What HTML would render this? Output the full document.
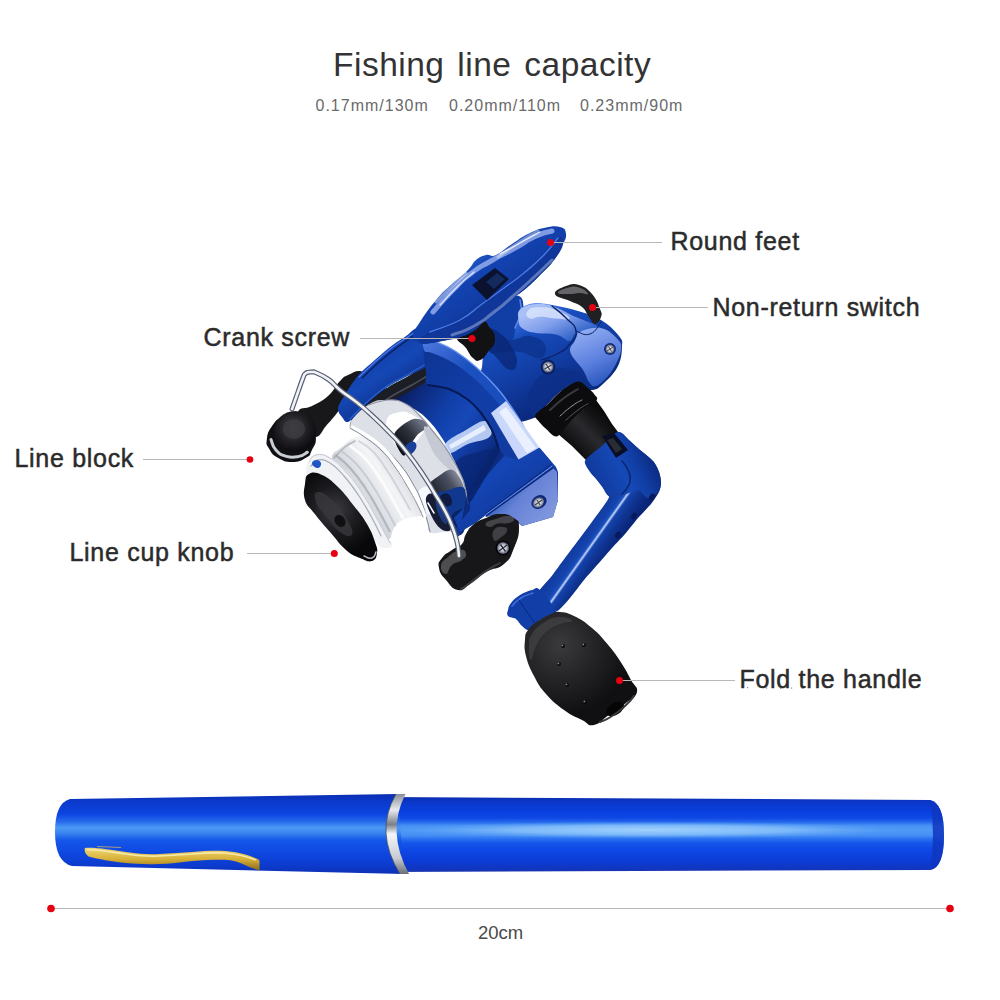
<!DOCTYPE html>
<html lang="en">
<head>
<meta charset="utf-8">
<title>Fishing line capacity</title>
<style>
html,body{margin:0;padding:0;background:#fff;}
body{width:1000px;height:1000px;position:relative;overflow:hidden;font-family:"Liberation Sans",sans-serif;}
svg{position:absolute;left:0;top:0;}
.t{position:absolute;white-space:nowrap;color:#2b2b2b;line-height:1;}
.title{left:333px;top:48px;font-size:33.5px;color:#333;letter-spacing:0.5px;word-spacing:3px;}
.sub{top:97.5px;font-size:16px;color:#6a6a6a;letter-spacing:1px;}
.lab{font-size:25px;letter-spacing:0.7px;-webkit-text-stroke:0.5px #2b2b2b;}
.dim{left:478px;top:924px;font-size:18.5px;color:#4a4a4a;}
</style>
</head>
<body>
<svg width="1000" height="1000" viewBox="0 0 1000 1000">
<defs>
<linearGradient id="penG" x1="0" y1="0" x2="0" y2="1">
<stop offset="0" stop-color="#0a2eb0"/>
<stop offset="0.08" stop-color="#0b38cc"/>
<stop offset="0.2" stop-color="#0a40e0"/>
<stop offset="0.28" stop-color="#0e48e4"/>
<stop offset="0.33" stop-color="#2466ec"/>
<stop offset="0.38" stop-color="#4690f4"/>
<stop offset="0.44" stop-color="#4f9af6"/>
<stop offset="0.51" stop-color="#4690f4"/>
<stop offset="0.56" stop-color="#2a70f0"/>
<stop offset="0.61" stop-color="#1658ea"/>
<stop offset="0.7" stop-color="#0e48e6"/>
<stop offset="0.85" stop-color="#0c3cd6"/>
<stop offset="0.95" stop-color="#1036c0"/>
<stop offset="1" stop-color="#1a34b0"/>
</linearGradient>
<linearGradient id="capG" x1="0" y1="0" x2="0" y2="1">
<stop offset="0" stop-color="#0a2eb0"/>
<stop offset="0.1" stop-color="#0b3acc"/>
<stop offset="0.25" stop-color="#0c44e0"/>
<stop offset="0.34" stop-color="#2468ec"/>
<stop offset="0.42" stop-color="#4a98f4"/>
<stop offset="0.48" stop-color="#3c88f0"/>
<stop offset="0.58" stop-color="#1456e8"/>
<stop offset="0.75" stop-color="#0e46e0"/>
<stop offset="0.9" stop-color="#0c3acc"/>
<stop offset="1" stop-color="#0e30b4"/>
</linearGradient>
<linearGradient id="ringG" x1="0" y1="0" x2="0" y2="1">
<stop offset="0" stop-color="#8a8f98"/>
<stop offset="0.2" stop-color="#e8eaee"/>
<stop offset="0.38" stop-color="#7a7f88"/>
<stop offset="0.5" stop-color="#f4f6f8"/>
<stop offset="0.8" stop-color="#c8ccd2"/>
<stop offset="1" stop-color="#6a6f78"/>
</linearGradient>
<linearGradient id="goldG" x1="0" y1="0" x2="0" y2="1">
<stop offset="0" stop-color="#f0d878"/>
<stop offset="0.5" stop-color="#d8b038"/>
<stop offset="1" stop-color="#8a6a18"/>
</linearGradient>
<radialGradient id="penHL" cx="0.5" cy="0.5" r="0.5">
<stop offset="0" stop-color="#a6d4fd" stop-opacity="0.95"/><stop offset="0.55" stop-color="#8ec6fb" stop-opacity="0.75"/><stop offset="1" stop-color="#6aaaf6" stop-opacity="0"/>
</radialGradient>
</defs>
<!-- pen -->
<g id="pen">
<path d="M384,797 L930,800 Q944,803 944,835 Q944,868 930,870 L384,872 Z" fill="url(#penG)"/>
<ellipse cx="650" cy="830" rx="250" ry="8.5" fill="url(#penHL)"/>
<path d="M930,800 Q944,803 944,835 Q944,868 930,870 Q936,835 930,800Z" fill="#0f36c0" opacity="0.85"/>
<path d="M70,799 L398,794 L404,874 L72,866 Q55,862 55,832 Q55,803 70,799Z" fill="url(#capG)"/>
<path d="M396,794 Q374,832 400,874 L409,874 Q386,832 405.5,794Z" fill="url(#ringG)"/>
<path d="M396,794 Q374,832 400,874" fill="none" stroke="#4a5060" stroke-width="0.8"/>
<path d="M85,848 C95,847 110,850 126,852 C140,854 150,854.5 159,854 C172,853.5 182,852.5 192,852 C204,851 214,850.5 225,851 C238,852 248,855 254,857.5 C258,859 260,860 259.5,862 L259.5,870.5 C255,869 250,867.5 247,866 C240,862 232,860 225,859.7 C214,859.5 204,860 192,861 C180,862.5 170,864 159,864 C146,864.5 136,864 126,863 C112,861.5 98,859 88.6,856.4 C85,854 84,850 85,848Z" fill="url(#goldG)"/>
<path d="M87,849.5 C100,850 112,852 126,854 C140,856 150,856.5 159,856 C172,855.5 182,854.5 192,854 C204,853 214,852.5 225,853 C238,854 248,857 256,860" stroke="#f7e9a8" stroke-width="1.6" fill="none"/>
<path d="M97,846.5 L121,847.5" stroke="#c9b060" stroke-width="1.2" fill="none" opacity="0.8"/>
</g>
<defs>
<linearGradient id="gFootTop" gradientUnits="userSpaceOnUse" x1="470" y1="262" x2="500" y2="305">
<stop offset="0" stop-color="#1d55c2"/><stop offset="0.25" stop-color="#1343b2"/><stop offset="0.7" stop-color="#113da5"/><stop offset="1" stop-color="#0b2d81"/></linearGradient>
<linearGradient id="gBand" gradientUnits="userSpaceOnUse" x1="400" y1="340" x2="540" y2="470">
<stop offset="0" stop-color="#0d318d"/><stop offset="0.5" stop-color="#113ea7"/><stop offset="1" stop-color="#11399c"/></linearGradient>
<linearGradient id="gRotor" gradientUnits="userSpaceOnUse" x1="395" y1="395" x2="500" y2="470">
<stop offset="0" stop-color="#0a1a58"/><stop offset="0.18" stop-color="#0d2d84"/><stop offset="0.38" stop-color="#113fa9"/><stop offset="0.55" stop-color="#1648b7"/><stop offset="0.7" stop-color="#113ba1"/><stop offset="1" stop-color="#082069"/></linearGradient>
<linearGradient id="gChrome" gradientUnits="userSpaceOnUse" x1="360" y1="430" x2="450" y2="470">
<stop offset="0" stop-color="#f4f6fa"/><stop offset="0.18" stop-color="#c9cdd6"/><stop offset="0.32" stop-color="#5c626e"/><stop offset="0.42" stop-color="#e8ebf0"/><stop offset="0.6" stop-color="#ffffff"/><stop offset="0.78" stop-color="#aab0bc"/><stop offset="0.9" stop-color="#4a5060"/><stop offset="1" stop-color="#dfe3ea"/></linearGradient>
<linearGradient id="gLine" gradientUnits="userSpaceOnUse" x1="340" y1="500" x2="410" y2="455">
<stop offset="0" stop-color="#a9aeb8"/><stop offset="0.3" stop-color="#d9dce1"/><stop offset="0.6" stop-color="#f4f5f7"/><stop offset="1" stop-color="#c2c6ce"/></linearGradient>
<linearGradient id="gBody" gradientUnits="userSpaceOnUse" x1="540" y1="305" x2="585" y2="395">
<stop offset="0" stop-color="#3a6fe6"/><stop offset="0.2" stop-color="#174dbd"/><stop offset="0.55" stop-color="#113da3"/><stop offset="1" stop-color="#0a2779"/></linearGradient>
<linearGradient id="gArm" gradientUnits="userSpaceOnUse" x1="576" y1="540" x2="605.3" y2="560.8">
<stop offset="0" stop-color="#11399c"/><stop offset="0.3" stop-color="#1444ae"/><stop offset="0.38" stop-color="#1b52c0"/><stop offset="0.43" stop-color="#c5d5fb"/><stop offset="0.49" stop-color="#1444ae"/><stop offset="0.7" stop-color="#0f3491"/><stop offset="1" stop-color="#092578"/></linearGradient>
<linearGradient id="gArmTop" gradientUnits="userSpaceOnUse" x1="596" y1="478" x2="650" y2="452">
<stop offset="0" stop-color="#113ba0"/><stop offset="0.45" stop-color="#1549b6"/><stop offset="0.7" stop-color="#113ea5"/><stop offset="1" stop-color="#0b2b81"/></linearGradient>
<linearGradient id="gBox" gradientUnits="userSpaceOnUse" x1="500" y1="470" x2="540" y2="525">
<stop offset="0" stop-color="#1445b4"/><stop offset="0.5" stop-color="#113ba1"/><stop offset="1" stop-color="#0b2d81"/></linearGradient>
<radialGradient id="gKnob" gradientUnits="userSpaceOnUse" cx="560" cy="645" r="70">
<stop offset="0" stop-color="#3a3a3c"/><stop offset="0.5" stop-color="#242426"/><stop offset="1" stop-color="#101012"/></radialGradient>
<radialGradient id="gRoller" gradientUnits="userSpaceOnUse" cx="293" cy="428" r="24">
<stop offset="0" stop-color="#48484c"/><stop offset="0.6" stop-color="#202024"/><stop offset="1" stop-color="#0c0c10"/></radialGradient>
<linearGradient id="gShaft" gradientUnits="userSpaceOnUse" x1="560" y1="440" x2="600" y2="400">
<stop offset="0" stop-color="#0a0a0c"/><stop offset="0.45" stop-color="#2a2a2e"/><stop offset="0.7" stop-color="#141416"/><stop offset="1" stop-color="#050506"/></linearGradient>
<radialGradient id="gCap" gradientUnits="userSpaceOnUse" cx="335" cy="510" r="45">
<stop offset="0" stop-color="#3c3c40"/><stop offset="0.5" stop-color="#1c1c20"/><stop offset="1" stop-color="#08080a"/></radialGradient>
<radialGradient id="gScrew">
<stop offset="0" stop-color="#ffffff"/><stop offset="0.6" stop-color="#b8bcc8"/><stop offset="1" stop-color="#4a5064"/></radialGradient>
<linearGradient id="gPatchA" gradientUnits="userSpaceOnUse" x1="398" y1="445" x2="422" y2="424">
<stop offset="0" stop-color="#0e1016"/><stop offset="0.55" stop-color="#2e333e"/><stop offset="1" stop-color="#6a7080"/></linearGradient>
<linearGradient id="gPatchB" gradientUnits="userSpaceOnUse" x1="432" y1="494" x2="462" y2="474">
<stop offset="0" stop-color="#1a1e28"/><stop offset="0.6" stop-color="#4a5060"/><stop offset="1" stop-color="#9aa0b0"/></linearGradient>
<linearGradient id="gPeri" gradientUnits="userSpaceOnUse" x1="500" y1="490" x2="540" y2="525">
<stop offset="0" stop-color="#2858b9"/><stop offset="0.4" stop-color="#6682d6"/><stop offset="1" stop-color="#7f96de"/></linearGradient>
<linearGradient id="gDome" gradientUnits="userSpaceOnUse" x1="545" y1="305" x2="565" y2="345">
<stop offset="0" stop-color="#a9c0f6"/><stop offset="0.45" stop-color="#7f9deb"/><stop offset="1" stop-color="#295dc2"/></linearGradient>
<linearGradient id="gPlate" gradientUnits="userSpaceOnUse" x1="585" y1="330" x2="610" y2="385">
<stop offset="0" stop-color="#8eaaf0"/><stop offset="0.5" stop-color="#5f82e0"/><stop offset="1" stop-color="#2150b9"/></linearGradient>
<linearGradient id="gBar" gradientUnits="userSpaceOnUse" x1="380" y1="355" x2="398" y2="382">
<stop offset="0" stop-color="#1240ab"/><stop offset="0.5" stop-color="#1548b6"/><stop offset="1" stop-color="#113ba0"/></linearGradient>
<linearGradient id="gRim" gradientUnits="userSpaceOnUse" x1="428" y1="342" x2="520" y2="430">
<stop offset="0" stop-color="#4a74dc"/><stop offset="0.35" stop-color="#1b51bf"/><stop offset="1" stop-color="#174ab9"/></linearGradient>
</defs>
<path d="M298.0,412.0 C299.9,406.4 305.0,409.7 312.0,406.0 C319.0,402.3 321.5,401.8 328.0,396.0 C334.5,390.2 335.3,385.9 340.0,381.0 C344.7,376.1 343.3,377.3 348.0,375.0 C352.7,372.7 356.3,370.3 360.0,371.0 C363.7,371.7 364.5,374.0 364.0,378.0 C363.5,382.0 361.7,383.3 358.0,388.0 C354.3,392.7 352.9,392.2 348.0,398.0 C343.1,403.8 342.1,406.5 337.0,413.0 C331.9,419.5 330.9,420.4 326.0,426.0 C321.1,431.6 321.1,436.1 316.0,437.0 C310.9,437.9 308.2,435.8 304.0,430.0 C299.8,424.2 296.1,417.6 298.0,412.0Z" fill="#18181a" />
<path d="M346.0,408.0 C347.9,402.9 352.1,402.2 360.0,398.0 C367.9,393.8 370.0,393.0 380.0,390.0 C390.0,387.0 392.7,387.3 403.0,385.0 C413.3,382.7 417.2,380.7 424.0,380.0 C430.8,379.3 426.2,379.9 432.0,382.0 C437.8,384.1 440.8,385.0 449.0,389.0 C457.2,393.0 459.5,393.4 467.0,399.0 C474.5,404.6 475.2,405.8 481.0,413.0 C486.8,420.2 488.0,422.1 492.0,430.0 C496.0,437.9 495.7,439.5 498.0,447.0 C500.3,454.5 502.5,453.8 502.0,462.0 C501.5,470.2 499.7,473.1 496.0,482.0 C492.3,490.9 492.1,492.5 486.0,500.0 C479.9,507.5 475.6,506.1 470.0,514.0 C464.4,521.9 466.2,530.7 462.0,534.0 C457.8,537.3 451.1,535.9 452.0,528.0 C452.9,520.1 463.7,511.4 466.0,500.0 C468.3,488.6 465.0,488.8 462.0,479.0 C459.0,469.2 457.7,467.6 453.0,458.0 C448.3,448.4 447.8,446.9 442.0,438.0 C436.2,429.1 434.5,426.8 428.0,420.0 C421.5,413.2 420.5,413.0 414.0,409.0 C407.5,405.0 406.8,404.9 400.0,403.0 C393.2,401.1 392.5,400.5 385.0,401.0 C377.5,401.5 375.7,400.6 368.0,405.0 C360.3,409.4 357.1,419.3 352.0,420.0 C346.9,420.7 344.1,413.1 346.0,408.0Z" fill="url(#gRotor)" />
<path d="M446.0,443.0 C449.2,438.4 458.4,434.4 466.0,430.0 C473.6,425.6 479.0,421.2 484.0,421.0 C489.0,420.8 490.2,425.6 491.0,429.0 C491.8,432.4 492.6,435.0 488.0,438.0 C483.4,441.0 475.6,441.0 468.0,444.0 C460.4,447.0 454.4,453.2 450.0,453.0 C445.6,452.8 442.8,447.6 446.0,443.0Z" fill="#c7d8fb" opacity="0.9"/>
<path d="M449.0,445.0 L484.0,425.0 L486.0,430.0 L451.0,449.0Z" fill="#f4f8ff" opacity="0.8"/>
<path d="M456.0,462.0 C459.7,455.7 468.0,454.8 478.0,452.0 C488.0,449.2 493.9,446.7 499.0,450.0 C504.1,453.3 501.6,457.6 500.0,466.0 C498.4,474.4 498.1,475.7 492.0,486.0 C485.9,496.3 480.5,502.1 474.0,510.0 C467.5,517.9 465.9,522.8 464.0,520.0 C462.1,517.2 466.5,507.6 466.0,498.0 C465.5,488.4 464.3,487.4 462.0,479.0 C459.7,470.6 452.3,468.3 456.0,462.0Z" fill="#092574" opacity="0.7"/>
<path d="M350.0,424.0 C351.2,419.0 358.6,412.2 366.0,405.0 C373.4,397.8 378.8,393.6 387.0,388.0 C395.2,382.4 398.8,381.4 406.8,377.0 C414.8,372.6 422.4,365.8 427.0,366.0 C431.6,366.2 433.0,373.2 430.0,378.0 C427.0,382.8 419.6,385.4 412.0,390.0 C404.4,394.6 399.6,396.0 392.0,401.0 C384.4,406.0 380.4,409.2 374.0,415.0 C367.6,420.8 364.8,428.2 360.0,430.0 C355.2,431.8 348.8,429.0 350.0,424.0Z" fill="#1c1e26" />
<path d="M358.0,424.0 C361.2,421.0 367.2,414.6 374.0,409.0 C380.8,403.4 384.4,400.8 392.0,396.0 C399.6,391.2 405.0,389.0 412.0,385.0 C419.0,381.0 424.0,377.8 427.0,376.0" fill="none" stroke="#4a4e5a" stroke-width="1.5" stroke-linecap="round" stroke-linejoin="round" />
<path d="M350.0,426.0 C350.0,433.2 359.6,430.4 368.0,436.0 C376.4,441.6 378.1,442.8 386.0,450.0 C393.9,457.2 395.7,459.1 402.0,467.0 C408.3,474.9 408.6,476.3 413.0,484.0 C417.4,491.7 417.7,491.6 421.0,500.0 C424.3,508.4 424.9,512.5 427.0,520.0 C429.1,527.5 426.0,529.2 430.0,532.0 C434.0,534.8 436.5,532.5 444.0,532.0 C451.5,531.5 456.2,532.8 462.0,530.0 C467.8,527.2 468.1,528.9 469.0,520.0 C469.9,511.1 468.3,503.4 466.0,492.0 C463.7,480.6 463.9,481.5 459.0,471.0 C454.1,460.5 451.5,456.8 445.0,447.0 C438.5,437.2 436.8,436.2 431.0,429.0 C425.2,421.8 425.8,421.8 420.0,416.0 C414.2,410.2 413.2,407.7 406.0,404.0 C398.8,400.3 397.9,399.8 389.0,400.0 C380.1,400.2 377.1,398.9 368.0,405.0 C358.9,411.1 350.0,418.8 350.0,426.0Z" fill="#dde0e7" />
<path d="M386.2,422.0 C386.9,414.2 392.6,413.8 398.8,412.2 C405.0,410.6 406.9,411.7 412.8,415.0 C418.7,418.3 422.7,420.6 424.0,426.2 C425.3,431.8 422.6,432.6 418.4,438.8 C414.2,445.0 411.0,451.2 405.8,452.8 C400.6,454.4 400.6,453.0 396.0,445.8 C391.4,438.6 385.5,429.8 386.2,422.0Z" fill="#ffffff" />
<path d="M393.9,436.0 C394.1,432.5 396.4,430.4 399.5,427.6 C402.6,424.8 408.7,420.3 412.8,419.2 C416.9,418.1 421.6,419.6 424.0,420.9 C426.4,422.2 428.6,424.6 427.5,426.9 C426.4,429.2 420.5,431.6 417.7,434.6 C414.9,437.6 412.9,441.6 410.7,445.1 C408.5,448.6 406.5,455.0 404.4,455.6 C402.3,456.2 399.9,451.9 398.1,448.6 C396.4,445.3 393.7,439.5 393.9,436.0Z" fill="url(#gPatchA)" />
<path d="M405.8,445.8 C407.5,443.1 410.4,441.3 412.8,441.6 C415.2,441.9 417.0,444.1 416.3,447.2 C415.6,450.3 412.5,453.5 410.0,454.9 C407.5,456.3 406.5,455.2 405.5,453.1 C404.5,451.0 404.1,448.5 405.8,445.8Z" fill="#193f98" />
<path d="M424.0,427.6 C424.7,424.7 427.2,426.6 432.4,431.8 C437.6,437.0 440.8,441.2 446.4,450.0 C452.0,458.8 454.9,464.7 456.2,469.6 C457.5,474.5 456.2,473.6 452.0,471.0 C447.8,468.4 443.2,464.6 438.0,458.4 C432.8,452.2 432.9,451.6 429.6,444.4 C426.3,437.2 423.3,430.5 424.0,427.6Z" fill="#c4c9d3" />
<path d="M429.6,484.3 C430.5,481.3 434.5,479.1 438.0,476.6 C441.5,474.2 447.1,469.6 450.6,469.6 C454.1,469.6 456.8,473.1 459.0,476.6 C461.2,480.1 465.1,488.0 463.9,490.6 C462.7,493.2 455.9,490.6 452.0,492.0 C448.1,493.4 444.1,498.5 440.8,499.0 C437.5,499.5 434.3,497.2 432.4,494.8 C430.5,492.4 428.7,487.3 429.6,484.3Z" fill="url(#gPatchB)" />
<path d="M418.4,492.0 C419.7,487.4 426.3,485.4 429.6,486.4 C432.9,487.4 430.4,491.6 432.4,496.2 C434.4,500.8 438.7,501.8 438.0,506.0 C437.3,510.2 432.9,514.4 429.6,514.4 C426.3,514.4 426.6,511.2 424.0,506.0 C421.4,500.8 417.1,496.6 418.4,492.0Z" fill="#f8f9fc" />
<path d="M427.5,500.4 C427.5,498.3 429.4,498.1 431.0,499.3 C432.6,500.4 434.5,503.2 434.5,505.3 C434.5,507.4 432.6,509.2 431.0,508.1 C429.4,507.0 427.5,502.5 427.5,500.4Z" fill="#b07ab8" opacity="0.45"/>
<path d="M426.0,498.0 C426.8,494.0 430.8,492.0 435.0,495.0 C439.2,498.0 443.8,506.2 447.0,513.0 C450.2,519.8 452.2,525.8 451.0,529.0 C449.8,532.2 445.0,531.8 441.0,529.0 C437.0,526.2 434.0,521.2 431.0,515.0 C428.0,508.8 425.2,502.0 426.0,498.0Z" fill="#161c34" />
<path d="M436.0,500.0 C437.0,499.6 439.8,503.6 442.0,508.0 C444.2,512.4 446.8,519.2 447.0,522.0 C447.2,524.8 445.0,524.4 443.0,522.0 C441.0,519.6 438.4,514.4 437.0,510.0 C435.6,505.6 435.0,500.4 436.0,500.0Z" fill="#1b4298" opacity="0.8"/>
<path d="M428.0,503.0 L434.0,513.0" fill="none" stroke="#ffffff" stroke-width="1.5" stroke-linecap="round" stroke-linejoin="round" />
<path d="M438.0,494.0 C438.3,490.2 441.2,492.4 446.0,491.0 C450.8,489.6 457.8,485.6 462.0,487.0 C466.2,488.4 465.6,491.4 467.0,498.0 C468.4,504.6 469.8,513.4 469.0,520.0 C468.2,526.6 465.8,527.6 463.0,531.0 C460.2,534.4 457.6,538.4 455.0,537.0 C452.4,535.6 452.1,529.4 450.0,524.0 C447.9,518.6 446.9,516.0 444.5,510.0 C442.1,504.0 437.7,497.8 438.0,494.0Z" fill="#11388f" />
<path d="M440.0,497.0 C440.4,494.6 445.6,492.8 448.0,494.0 C450.4,495.2 452.4,500.6 452.0,503.0 C451.6,505.4 448.4,507.2 446.0,506.0 C443.6,504.8 439.6,499.4 440.0,497.0Z" fill="#0e1a40" />
<path d="M452.0,515.0 C453.6,511.2 462.8,507.8 466.0,509.0 C469.2,510.2 469.6,517.2 468.0,521.0 C466.4,524.8 461.2,529.2 458.0,528.0 C454.8,526.8 450.4,518.8 452.0,515.0Z" fill="#092464" />
<path d="M368.0,405.0 C372.9,403.8 380.1,400.2 389.0,400.0 C397.9,399.8 398.8,400.3 406.0,404.0 C413.2,407.7 414.2,410.2 420.0,416.0 C425.8,421.8 425.2,421.8 431.0,429.0 C436.8,436.2 438.5,437.2 445.0,447.0 C451.5,456.8 454.1,460.5 459.0,471.0 C463.9,481.5 463.7,480.6 466.0,492.0 C468.3,503.4 469.9,511.1 469.0,520.0 C468.1,528.9 463.6,527.7 462.0,530.0" fill="none" stroke="#8b92a2" stroke-width="1.2" stroke-linecap="round" stroke-linejoin="round" />
<path d="M350.0,426.0 C354.2,428.3 359.6,430.4 368.0,436.0 C376.4,441.6 378.1,442.8 386.0,450.0 C393.9,457.2 395.7,459.1 402.0,467.0 C408.3,474.9 408.6,476.3 413.0,484.0 C417.4,491.7 417.7,491.6 421.0,500.0 C424.3,508.4 424.9,512.5 427.0,520.0 C429.1,527.5 429.3,529.2 430.0,532.0" fill="none" stroke="#7a8090" stroke-width="1.0" stroke-linecap="round" stroke-linejoin="round" />
<path d="M332.0,458.0 C331.3,452.2 337.9,450.7 343.0,446.0 C348.1,441.3 348.6,440.1 354.0,438.0 C359.4,435.9 359.9,434.9 366.0,437.0 C372.1,439.1 373.9,440.9 380.0,447.0 C386.1,453.1 386.2,454.4 392.0,463.0 C397.8,471.6 399.4,474.7 405.0,484.0 C410.6,493.3 412.0,496.0 416.0,503.0 C420.0,510.0 422.5,510.7 422.0,514.0 C421.5,517.3 418.7,515.6 414.0,517.0 C409.3,518.4 406.7,517.4 402.0,520.0 C397.3,522.6 397.0,523.6 394.0,528.0 C391.0,532.4 391.8,539.0 389.0,539.0 C386.2,539.0 385.0,533.4 382.0,528.0 C379.0,522.6 380.7,524.4 376.0,516.0 C371.3,507.6 369.0,502.5 362.0,492.0 C355.0,481.5 353.0,478.9 346.0,471.0 C339.0,463.1 332.7,463.8 332.0,458.0Z" fill="url(#gLine)" />
<path d="M336.1,455.5 C339.8,458.9 342.2,459.3 350.1,468.1 C358.0,476.9 357.8,476.8 365.6,488.5 C373.4,500.3 373.1,500.8 379.5,512.2 C385.9,523.5 386.9,526.1 389.6,531.2" fill="none" stroke="#8f95a3" stroke-width="2.2" stroke-linecap="round" stroke-linejoin="round" opacity="0.55"/>
<path d="M342.2,451.7 C345.9,454.9 348.5,455.4 356.2,463.8 C363.9,472.2 363.4,471.9 371.0,483.3 C378.6,494.7 378.3,495.2 384.7,506.4 C391.1,517.6 392.3,520.3 395.0,525.4" fill="none" stroke="#aeb3bf" stroke-width="2.0" stroke-linecap="round" stroke-linejoin="round" opacity="0.5"/>
<path d="M350.7,446.4 C354.4,449.5 357.3,449.9 364.7,457.8 C372.1,465.7 371.2,465.2 378.5,476.1 C385.8,486.9 385.6,487.4 391.9,498.4 C398.3,509.4 399.7,512.3 402.5,517.4" fill="none" stroke="#ffffff" stroke-width="3.0" stroke-linecap="round" stroke-linejoin="round" opacity="0.8"/>
<path d="M359.2,441.2 C362.9,444.0 366.1,444.4 373.2,451.8 C380.3,459.2 379.1,458.5 386.0,468.8 C392.9,479.1 392.8,479.6 399.2,490.4 C405.6,501.2 407.1,504.3 410.0,509.4" fill="none" stroke="#b4b9c5" stroke-width="2.0" stroke-linecap="round" stroke-linejoin="round" opacity="0.5"/>
<path d="M334.0,458.0 C336.6,455.4 340.1,451.0 345.0,447.0 C349.9,443.0 352.7,442.4 355.0,441.0" fill="none" stroke="#9ea3ad" stroke-width="1.6" stroke-linecap="round" stroke-linejoin="round" opacity="0.7"/>
<path d="M352.0,427.0 C355.7,429.1 360.5,430.9 368.0,436.0 C375.5,441.1 377.2,442.2 384.0,449.0 C390.8,455.8 391.2,456.8 397.0,465.0 C402.8,473.2 403.9,475.4 409.0,484.0 C414.1,492.6 415.3,494.5 419.0,502.0 C422.7,509.5 423.6,512.7 425.0,516.0" fill="none" stroke="#ffffff" stroke-width="3.2" stroke-linecap="round" stroke-linejoin="round" />
<path d="M350.0,428.0 C353.7,430.3 358.5,432.6 366.0,438.0 C373.5,443.4 375.2,444.2 382.0,451.0 C388.8,457.8 389.2,458.8 395.0,467.0 C400.8,475.2 401.9,477.4 407.0,486.0 C412.1,494.6 413.3,496.8 417.0,504.0 C420.7,511.2 421.6,514.0 423.0,517.0" fill="none" stroke="#808796" stroke-width="1.0" stroke-linecap="round" stroke-linejoin="round" />
<path d="M306.0,470.0 C306.0,466.7 306.7,464.7 309.0,461.0 C311.3,457.3 311.1,454.9 316.0,454.0 C320.9,453.1 323.0,453.0 330.0,457.0 C337.0,461.0 338.5,462.8 346.0,471.0 C353.5,479.2 355.0,481.5 362.0,492.0 C369.0,502.5 370.4,506.0 376.0,516.0 C381.6,526.0 382.3,528.2 386.0,535.0 C389.7,541.8 392.5,542.0 392.0,545.0 C391.5,548.0 387.7,548.7 384.0,548.0 C380.3,547.3 380.0,547.6 376.0,542.0 C372.0,536.4 372.1,532.4 367.0,524.0 C361.9,515.6 360.8,514.6 354.0,506.0 C347.2,497.4 345.5,494.0 338.0,487.0 C330.5,480.0 328.8,478.8 322.0,476.0 C315.2,473.2 312.7,476.4 309.0,475.0 C305.3,473.6 306.0,473.3 306.0,470.0Z" fill="#f1f2f5" />
<path d="M311.0,466.0 C312.6,464.6 313.6,460.7 318.0,460.0 C322.4,459.3 323.9,459.3 330.0,463.0 C336.1,466.7 337.2,468.3 344.0,476.0 C350.8,483.7 352.5,486.2 359.0,496.0 C365.5,505.8 366.9,508.7 372.0,518.0 C377.1,527.3 378.9,531.8 381.0,536.0" fill="none" stroke="#a9aeb9" stroke-width="1.3" stroke-linecap="round" stroke-linejoin="round" />
<path d="M309.0,462.0 C310.6,460.4 311.1,455.9 316.0,455.0 C320.9,454.1 323.0,454.0 330.0,458.0 C337.0,462.0 338.5,463.8 346.0,472.0 C353.5,480.2 355.0,482.5 362.0,493.0 C369.0,503.5 369.5,505.3 376.0,517.0 C382.5,528.7 386.7,536.9 390.0,543.0" fill="none" stroke="#c2c6ce" stroke-width="1.0" stroke-linecap="round" stroke-linejoin="round" />
<path d="M312.0,464.0 C311.5,462.1 313.9,460.2 316.0,460.0 C318.1,459.8 320.5,461.1 321.0,463.0 C321.5,464.9 320.1,467.8 318.0,468.0 C315.9,468.2 312.5,465.9 312.0,464.0Z" fill="#1f55c4" />
<path d="M309.0,474.0 C313.0,471.9 315.2,472.0 322.0,475.0 C328.8,478.0 330.5,479.8 338.0,487.0 C345.5,494.2 347.2,497.4 354.0,506.0 C360.8,514.6 362.1,515.6 367.0,524.0 C371.9,532.4 372.7,535.2 375.0,542.0 C377.3,548.8 377.7,548.6 377.0,553.0 C376.3,557.4 376.0,559.8 372.0,561.0 C368.0,562.2 366.1,560.6 360.0,558.0 C353.9,555.4 353.0,556.1 346.0,550.0 C339.0,543.9 337.5,540.6 330.0,532.0 C322.5,523.4 319.8,520.5 314.0,513.0 C308.2,505.5 307.1,506.8 305.0,500.0 C302.9,493.2 304.1,490.1 305.0,484.0 C305.9,477.9 305.0,476.1 309.0,474.0Z" fill="url(#gCap)" />
<path d="M318.0,492.0 C322.3,491.5 324.5,493.1 332.0,500.0 C339.5,506.9 340.7,508.9 346.0,518.0 C351.3,527.1 353.6,530.3 352.0,534.0 C350.4,537.7 346.9,536.8 340.0,532.0 C333.1,527.2 332.4,524.0 326.0,516.0 C319.6,508.0 318.1,508.4 316.0,502.0 C313.9,495.6 313.7,492.5 318.0,492.0Z" fill="#38383c" opacity="0.8"/>
<ellipse cx="340" cy="521" rx="5" ry="6.5" transform="rotate(-35 340 521)" fill="#101012"/>
<path d="M364.0,556.0 C366.7,556.7 368.0,559.3 372.0,558.0 C376.0,556.7 374.7,554.0 376.0,552.0" fill="none" stroke="#b9bdc6" stroke-width="1.5" stroke-linecap="round" stroke-linejoin="round" />
<path d="M520.0,307.0 C525.8,306.5 526.6,303.9 533.0,303.5 C539.4,303.1 543.0,303.5 552.0,305.0 C561.0,306.5 568.2,308.0 578.0,311.0 C587.8,314.0 592.8,315.0 601.0,320.0 C609.2,325.0 614.8,330.6 619.0,336.0 C623.2,341.4 622.2,341.0 622.0,347.0 C621.8,353.0 621.4,359.0 618.0,366.0 C614.6,373.0 610.2,377.2 605.0,382.0 C599.8,386.8 597.8,389.8 592.0,390.0 C586.2,390.2 582.4,382.6 576.0,383.0 C569.6,383.4 566.0,387.4 560.0,392.0 C554.0,396.6 551.2,400.8 546.0,406.0 C540.8,411.2 541.2,415.2 534.0,418.0 C526.8,420.8 518.8,423.6 510.0,420.0 C501.2,416.4 496.0,408.0 490.0,400.0 C484.0,392.0 481.6,386.6 480.0,380.0 C478.4,373.4 481.2,372.2 482.0,367.0 C482.8,361.8 482.0,359.8 484.0,354.0 C486.0,348.2 491.6,344.0 492.0,338.0 C492.4,332.0 486.8,328.8 486.0,324.0 C485.2,319.2 484.4,317.6 488.0,314.0 C491.6,310.4 497.6,307.4 504.0,306.0 C510.4,304.6 514.2,307.5 520.0,307.0Z" fill="url(#gBody)" />
<path d="M484.0,312.0 C487.2,306.8 493.0,303.2 500.0,300.0 C507.0,296.8 514.4,294.0 519.0,296.0 C523.6,298.0 523.6,304.0 523.0,310.0 C522.4,316.0 518.2,320.0 516.0,326.0 C513.8,332.0 515.6,337.6 512.0,340.0 C508.4,342.4 503.6,340.8 498.0,338.0 C492.4,335.2 486.8,331.2 484.0,326.0 C481.2,320.8 480.8,317.2 484.0,312.0Z" fill="#113ea5" />
<path d="M520.0,300.0 C520.2,302.4 522.0,306.4 521.0,312.0 C520.0,317.6 516.2,324.8 515.0,328.0" fill="none" stroke="#5a86ec" stroke-width="1.6" stroke-linecap="round" stroke-linejoin="round" />
<path d="M494.0,338.0 C499.1,335.2 503.6,340.5 512.0,340.0 C520.4,339.5 522.3,334.8 530.0,336.0 C537.7,337.2 542.7,339.9 545.0,345.0 C547.3,350.1 545.8,356.4 540.0,358.0 C534.2,359.6 529.3,353.4 520.0,352.0 C510.7,350.6 507.0,352.0 500.0,352.0 C493.0,352.0 491.4,355.3 490.0,352.0 C488.6,348.7 488.9,340.8 494.0,338.0Z" fill="#0d328c" opacity="0.8"/>
<path d="M484.8,328.0 C488.5,325.4 492.9,328.3 499.2,332.8 C505.5,337.3 507.9,340.1 512.0,347.2 C516.1,354.3 517.5,358.0 516.8,363.2 C516.1,368.4 514.0,371.5 508.8,369.6 C503.6,367.7 500.4,361.2 494.4,355.2 C488.4,349.2 485.4,350.3 483.2,344.0 C481.0,337.7 481.1,330.6 484.8,328.0Z" fill="#092574" opacity="0.75"/>
<path d="M520.0,309.6 C522.9,306.7 526.4,305.1 532.8,304.3 C539.2,303.6 543.4,303.4 552.0,305.9 C560.6,308.5 566.7,313.0 576.0,317.1 C585.3,321.3 592.6,323.3 598.4,326.7 C604.2,330.2 606.2,330.9 605.1,334.4 C604.0,337.9 598.5,344.5 592.8,344.3 C587.1,344.2 581.4,334.2 576.8,333.6 C572.2,333.0 573.6,340.9 569.6,341.1 C565.6,341.3 563.5,336.3 556.8,334.7 C550.1,333.1 543.0,334.5 536.0,333.1 C529.0,331.8 525.4,330.9 521.9,328.0 C518.4,325.1 518.8,322.4 518.4,318.7 C518.0,315.0 517.1,312.5 520.0,309.6Z" fill="url(#gDome)" />
<path d="M528.0,310.4 C531.0,307.4 533.1,307.2 540.8,307.2 C548.5,307.2 549.1,307.4 556.8,310.4 C564.5,313.4 570.0,316.3 569.6,318.4 C569.2,320.5 562.9,318.8 555.2,318.4 C547.5,318.0 547.6,316.8 540.8,316.8 C534.0,316.8 533.0,320.1 529.6,318.4 C526.2,316.7 525.0,313.4 528.0,310.4Z" fill="#dfe8fd" opacity="0.75"/>
<path d="M580.0,332.0 C585.4,329.4 594.0,326.8 601.6,328.3 C609.2,329.8 614.0,335.4 617.9,339.5 C621.8,343.6 621.4,344.1 621.1,348.8 C620.8,353.5 619.5,357.1 616.3,363.2 C613.1,369.3 609.9,374.7 605.1,379.2 C600.3,383.7 596.8,387.8 592.3,385.9 C587.8,384.0 587.1,376.3 582.7,369.6 C578.3,362.9 572.0,358.0 570.4,352.3 C568.8,346.6 572.8,345.2 574.7,341.1 C576.6,337.1 574.6,334.6 580.0,332.0Z" fill="url(#gPlate)" />
<path d="M552.0,306.0 C555.7,309.2 559.6,311.3 566.0,318.0 C572.4,324.7 574.9,324.1 576.0,331.0 C577.1,337.9 575.1,337.9 570.0,344.0 C564.9,350.1 564.7,349.7 557.0,354.0 C549.3,358.3 545.3,358.4 541.0,360.0" fill="none" stroke="#092265" stroke-width="1.3" stroke-linecap="round" stroke-linejoin="round" />
<path d="M576.0,331.0 C579.7,331.8 583.3,336.4 590.0,334.0 C596.7,331.6 598.1,325.2 601.0,322.0" fill="none" stroke="#092265" stroke-width="1.0" stroke-linecap="round" stroke-linejoin="round" />
<path d="M534.4,382.4 C540.0,374.9 543.8,372.6 552.0,369.6 C560.2,366.6 562.5,368.1 569.6,369.6 C576.7,371.1 577.2,371.5 582.4,376.0 C587.6,380.5 593.5,385.1 592.0,388.8 C590.5,392.5 584.2,391.3 576.0,392.0 C567.8,392.7 564.3,389.0 556.8,392.0 C549.3,395.0 549.2,399.2 544.0,404.8 C538.8,410.4 538.1,416.7 534.4,416.0 C530.7,415.3 528.0,409.4 528.0,401.6 C528.0,393.8 528.8,389.9 534.4,382.4Z" fill="#0d2f88" opacity="0.85"/>
<path d="M338.0,409.0 C338.2,405.8 339.7,403.5 343.0,398.0 C346.3,392.5 352.3,382.5 357.8,376.0 C363.3,369.5 370.2,364.2 376.0,359.0 C381.8,353.8 387.7,348.9 392.8,345.0 C397.9,341.1 402.8,338.2 406.8,335.4 C410.8,332.6 413.4,328.5 416.6,328.4 C419.8,328.3 423.9,331.4 426.0,335.0 C428.1,338.6 428.8,344.9 429.0,350.0 C429.2,355.1 430.7,361.1 427.0,365.5 C423.3,369.9 413.5,372.8 406.8,376.5 C400.1,380.2 393.8,382.8 387.0,387.5 C380.2,392.2 372.3,398.8 366.0,404.5 C359.7,410.2 353.0,419.4 349.0,421.5 C345.0,423.6 343.8,419.1 342.0,417.0 C340.2,414.9 337.8,412.2 338.0,409.0Z" fill="url(#gBar)" />
<path d="M362.0,378.0 C364.7,375.5 372.5,367.8 378.0,363.0 C383.5,358.2 389.8,353.0 395.0,349.0 C400.2,345.0 405.2,341.7 409.0,339.0 C412.8,336.3 416.5,334.0 418.0,333.0" fill="none" stroke="#071e5c" stroke-width="1.2" stroke-linecap="round" stroke-linejoin="round" />
<path d="M359.0,377.0 C361.8,374.3 370.3,366.0 376.0,361.0 C381.7,356.0 387.8,350.9 393.0,347.0 C398.2,343.1 403.0,340.2 407.0,337.5 C411.0,334.8 415.3,332.1 417.0,331.0" fill="none" stroke="#4d7ae6" stroke-width="1.2" stroke-linecap="round" stroke-linejoin="round" />
<path d="M350.0,419.0 C352.7,416.3 359.8,408.5 366.0,403.0 C372.2,397.5 380.2,390.7 387.0,386.0 C393.8,381.3 400.5,378.7 407.0,375.0 C413.5,371.3 422.8,365.8 426.0,364.0" fill="none" stroke="#2760cb" stroke-width="1.4" stroke-linecap="round" stroke-linejoin="round" />
<path d="M424.0,334.0 C426.6,330.8 430.8,338.6 437.0,342.0 C443.2,345.4 447.2,346.0 455.0,351.0 C462.8,356.0 467.6,359.6 476.0,367.0 C484.4,374.4 489.8,379.8 497.0,388.0 C504.2,396.2 506.4,399.8 512.0,408.0 C517.6,416.2 519.8,421.2 525.0,429.0 C530.2,436.8 532.8,439.6 538.0,447.0 C543.2,454.4 552.6,460.6 551.0,466.0 C549.4,471.4 539.8,474.8 530.0,474.0 C520.2,473.2 508.4,467.4 502.0,462.0 C495.6,456.6 500.0,453.4 498.0,447.0 C496.0,440.6 495.4,436.8 492.0,430.0 C488.6,423.2 486.0,419.2 481.0,413.0 C476.0,406.8 473.4,403.8 467.0,399.0 C460.6,394.2 456.8,391.8 449.0,389.0 C441.2,386.2 432.6,388.4 428.0,385.0 C423.4,381.6 426.8,377.4 426.0,372.0 C425.2,366.6 424.4,365.6 424.0,358.0 C423.6,350.4 421.4,337.2 424.0,334.0Z" fill="url(#gBand)" />
<path d="M424.0,334.0 C426.6,332.4 430.8,338.6 437.0,342.0 C443.2,345.4 447.2,346.0 455.0,351.0 C462.8,356.0 467.6,359.6 476.0,367.0 C484.4,374.4 489.8,379.8 497.0,388.0 C504.2,396.2 506.4,399.8 512.0,408.0 C517.6,416.2 523.8,424.0 525.0,429.0 C526.2,434.0 521.8,436.0 518.0,433.0 C514.2,430.0 511.6,421.8 506.0,414.0 C500.4,406.2 497.2,401.8 490.0,394.0 C482.8,386.2 478.0,381.6 470.0,375.0 C462.0,368.4 457.6,365.4 450.0,361.0 C442.4,356.6 437.2,355.2 432.0,353.0 C426.8,350.8 425.6,353.8 424.0,350.0 C422.4,346.2 421.4,335.6 424.0,334.0Z" fill="url(#gRim)" />
<path d="M426.0,336.0 C428.2,337.2 431.2,339.0 437.0,342.0 C442.8,345.0 447.2,346.0 455.0,351.0 C462.8,356.0 467.6,359.6 476.0,367.0 C484.4,374.4 489.8,379.8 497.0,388.0 C504.2,396.2 506.6,400.2 512.0,408.0 C517.4,415.8 521.6,423.2 524.0,427.0" fill="none" stroke="#6a94f2" stroke-width="1.4" stroke-linecap="round" stroke-linejoin="round" />
<path d="M428.0,385.0 C432.2,385.8 441.2,386.2 449.0,389.0 C456.8,391.8 460.6,394.2 467.0,399.0 C473.4,403.8 476.0,406.8 481.0,413.0 C486.0,419.2 488.6,423.2 492.0,430.0 C495.4,436.8 496.0,440.6 498.0,447.0 C500.0,453.4 501.2,459.0 502.0,462.0" fill="none" stroke="#061955" stroke-width="2.0" stroke-linecap="round" stroke-linejoin="round" />
<path d="M500.0,450.0 L504.0,456.0 L518.0,460.0 L539.5,447.5 L556.0,467.0 L558.0,472.0 L558.0,500.0 L553.0,517.0 L522.0,526.0 L514.0,519.0 L500.0,515.0 L486.0,515.0 L474.0,524.0 L460.0,532.0 L454.0,518.0 L472.0,500.0 L490.0,470.0Z" fill="url(#gBox)" />
<path d="M496.0,444.0 L504.0,456.0 L470.0,494.0 L470.0,510.0 L462.0,520.0 L466.0,498.0 L480.0,470.0Z" fill="#09246d" opacity="0.75"/>
<path d="M486.0,516.0 L520.0,491.5 L553.0,468.0 L557.0,472.0 L558.0,500.0 L553.0,517.0 L522.0,526.0 L514.0,519.0 L500.0,515.0 L486.0,517.0Z" fill="url(#gPeri)" />
<path d="M486.0,516.0 C497.3,507.8 497.7,507.5 520.0,491.5 C542.3,475.5 542.0,475.8 553.0,468.0" fill="none" stroke="#092779" stroke-width="1.2" stroke-linecap="round" stroke-linejoin="round" />
<path d="M486.0,513.0 C497.3,504.7 498.3,504.2 520.0,488.0 C541.7,471.8 540.7,472.3 551.0,464.5" fill="none" stroke="#092779" stroke-width="1.0" stroke-linecap="round" stroke-linejoin="round" />
<path d="M486.0,514.5 C497.3,506.2 498.0,505.8 520.0,489.7 C542.0,473.6 541.3,474.0 552.0,466.2" fill="none" stroke="#86a4f0" stroke-width="0.9" stroke-linecap="round" stroke-linejoin="round" />
<path d="M491.0,413.0 L506.0,401.0 L539.5,447.5 L518.5,459.5Z" fill="#c9d8fa" />
<path d="M499.0,412.0 L506.0,407.0 L536.0,448.0 L527.0,453.0Z" fill="#f2f6ff" opacity="0.8"/>
<path d="M458.0,335.0 C461.7,328.1 471.5,323.9 480.0,322.0 C488.5,320.1 486.0,323.2 490.0,328.0 C494.0,332.8 495.5,333.6 495.0,340.0 C494.5,346.4 492.0,346.7 488.0,352.0 C484.0,357.3 484.0,358.4 480.0,360.0 C476.0,361.6 476.7,361.2 473.0,358.0 C469.3,354.8 470.0,354.1 466.0,348.0 C462.0,341.9 454.3,341.9 458.0,335.0Z" fill="#121214" />
<path d="M560.0,227.0 C565.1,228.4 565.5,229.6 566.0,234.0 C566.5,238.4 564.8,239.9 562.0,246.0 C559.2,252.1 559.1,253.2 554.0,260.0 C548.9,266.8 547.0,268.0 540.0,275.0 C533.0,282.0 531.5,283.9 524.0,290.0 C516.5,296.1 516.2,294.9 508.0,301.0 C499.8,307.1 497.9,308.5 489.0,316.0 C480.1,323.5 481.0,327.2 470.0,333.0 C459.0,338.8 453.7,338.7 442.0,341.0 C430.3,343.3 426.8,344.2 420.0,343.0 C413.2,341.8 413.0,340.9 413.0,336.0 C413.0,331.1 414.6,330.4 420.0,322.0 C425.4,313.6 428.5,308.9 436.0,300.0 C443.5,291.1 444.5,291.0 452.0,284.0 C459.5,277.0 462.4,275.6 468.0,270.0 C473.6,264.4 471.8,263.5 476.0,260.0 C480.2,256.5 481.3,256.2 486.0,255.0 C490.7,253.8 489.9,257.6 496.0,255.0 C502.1,252.4 504.5,248.9 512.0,244.0 C519.5,239.1 520.5,237.7 528.0,234.0 C535.5,230.3 536.5,229.6 544.0,228.0 C551.5,226.4 554.9,225.6 560.0,227.0Z" fill="url(#gFootTop)" />
<path d="M563.0,244.0 C562.1,249.1 559.4,252.8 554.0,260.0 C548.6,267.2 547.0,268.0 540.0,275.0 C533.0,282.0 531.5,283.9 524.0,290.0 C516.5,296.1 516.2,294.9 508.0,301.0 C499.8,307.1 497.9,308.5 489.0,316.0 C480.1,323.5 481.0,327.2 470.0,333.0 C459.0,338.8 453.7,338.7 442.0,341.0 C430.3,343.3 422.8,345.1 420.0,343.0 C417.2,340.9 420.7,337.4 430.0,332.0 C439.3,326.6 447.9,326.5 460.0,320.0 C472.1,313.5 471.7,311.5 482.0,304.0 C492.3,296.5 494.2,295.2 504.0,288.0 C513.8,280.8 514.7,280.7 524.0,273.0 C533.3,265.3 536.1,263.2 544.0,255.0 C551.9,246.8 553.6,240.6 558.0,238.0 C562.4,235.4 563.9,238.9 563.0,244.0Z" fill="#0f3698" />
<path d="M430.0,332.0 C437.0,329.2 447.9,326.5 460.0,320.0 C472.1,313.5 471.7,311.5 482.0,304.0 C492.3,296.5 494.2,295.2 504.0,288.0 C513.8,280.8 514.7,280.7 524.0,273.0 C533.3,265.3 536.1,263.2 544.0,255.0 C551.9,246.8 554.7,242.0 558.0,238.0" fill="none" stroke="#4a78e4" stroke-width="1.4" stroke-linecap="round" stroke-linejoin="round" />
<path d="M433.0,312.0 C439.7,304.7 440.3,302.8 453.0,290.0 C465.7,277.2 458.3,283.2 471.0,273.5 C483.7,263.8 476.3,269.5 491.0,261.0 C505.7,252.5 500.3,256.2 515.0,248.0 C529.7,239.8 522.7,242.2 535.0,236.5 C547.3,230.8 546.3,232.8 552.0,231.0" fill="none" stroke="#93acec" stroke-width="5.0" stroke-linecap="round" stroke-linejoin="round" opacity="0.85"/>
<path d="M440.0,305.0 C446.0,298.7 446.7,297.0 458.0,286.0 C469.3,275.0 468.7,276.7 474.0,272.0" fill="none" stroke="#dfe9ff" stroke-width="1.2" stroke-linecap="round" stroke-linejoin="round" />
<path d="M500.0,254.0 C506.7,250.3 506.7,250.3 520.0,243.0 C533.3,235.7 533.3,235.7 540.0,232.0" fill="none" stroke="#dfe9ff" stroke-width="1.2" stroke-linecap="round" stroke-linejoin="round" />
<path d="M436.0,302.0 C440.7,297.3 440.0,297.7 450.0,288.0 C460.0,278.3 460.7,278.0 466.0,273.0" fill="none" stroke="#ffffff" stroke-width="3.0" stroke-linecap="round" stroke-linejoin="round" opacity="0.45"/>
<path d="M498.0,257.0 C504.7,252.3 504.7,251.7 518.0,243.0 C531.3,234.3 531.3,235.0 538.0,231.0" fill="none" stroke="#ffffff" stroke-width="3.0" stroke-linecap="round" stroke-linejoin="round" opacity="0.4"/>
<path d="M452.0,335.0 C459.3,332.0 460.0,333.7 474.0,326.0 C488.0,318.3 481.3,321.7 494.0,312.0 C506.7,302.3 499.3,308.0 512.0,297.0 C524.7,286.0 518.7,291.3 532.0,279.0 C545.3,266.7 545.3,266.3 552.0,260.0" fill="none" stroke="#ffffff" stroke-width="3.0" stroke-linecap="round" stroke-linejoin="round" opacity="0.32"/>
<path d="M472.0,285.0 L495.0,268.0 L509.0,279.0 L487.0,300.0Z" fill="#0a1230" />
<path d="M486.0,282.0 L497.0,273.0 L505.0,279.0 L494.0,289.0Z" fill="#132a5c" />
<path d="M555.0,294.0 C554.1,290.5 560.4,288.1 566.0,286.0 C571.6,283.9 572.9,283.1 579.0,285.0 C585.1,286.9 587.1,288.4 592.0,294.0 C596.9,299.6 597.9,303.6 600.0,309.0 C602.1,314.4 602.2,313.5 601.0,317.0 C599.8,320.5 597.8,324.0 595.0,324.0 C592.2,324.0 592.0,321.0 589.0,317.0 C586.0,313.0 586.4,310.7 582.0,307.0 C577.6,303.3 576.3,304.0 570.0,301.0 C563.7,298.0 555.9,297.5 555.0,294.0Z" fill="#202022" />
<path d="M558.0,293.0 C557.2,291.4 561.4,289.5 567.0,288.0 C572.6,286.5 573.4,285.9 579.0,287.5 C584.6,289.1 587.7,292.5 588.0,294.0 C588.3,295.5 584.8,293.0 580.0,293.0 C575.2,293.0 575.9,294.0 570.0,294.0 C564.1,294.0 558.8,294.6 558.0,293.0Z" fill="#77777c" opacity="0.8"/>
<path d="M558.0,434.0 L566.0,425.0 L580.0,412.0 L596.0,400.0 L604.0,411.0 L612.0,424.0 L618.4,432.4 L586.4,460.4 L572.0,446.0Z" fill="url(#gShaft)" />
<path d="M535.6,414.4 C537.3,411.7 543.9,407.7 548.0,404.0 C552.1,400.3 555.1,395.7 560.0,392.0 C564.9,388.3 572.9,382.3 577.6,381.6 C582.3,380.9 585.2,385.9 588.0,388.0 C590.8,390.1 593.0,392.3 594.4,394.4 C595.8,396.5 598.8,397.4 596.4,400.4 C594.0,403.4 585.1,408.1 580.0,412.4 C574.9,416.7 569.9,422.4 566.0,426.4 C562.1,430.4 559.8,436.1 556.4,436.4 C553.0,436.7 548.7,431.1 545.6,428.4 C542.5,425.7 539.7,422.7 538.0,420.4 C536.3,418.1 533.9,417.1 535.6,414.4Z" fill="#0c0c0e" />
<path d="M550.0,410.0 C554.7,406.0 554.7,405.0 564.0,398.0 C573.3,391.0 573.3,392.0 578.0,389.0" fill="none" stroke="#3a3a40" stroke-width="2.0" stroke-linecap="round" stroke-linejoin="round" />
<path d="M560.0,416.0 C564.0,412.7 564.7,411.3 572.0,406.0 C579.3,400.7 578.7,402.0 582.0,400.0" fill="none" stroke="#9a9aa0" stroke-width="1.0" stroke-linecap="round" stroke-linejoin="round" />
<path d="M566.0,420.0 C570.0,416.7 570.7,415.5 578.0,410.0 C585.3,404.5 584.7,405.7 588.0,403.6" fill="none" stroke="#5a5a60" stroke-width="1.0" stroke-linecap="round" stroke-linejoin="round" />
<path d="M585.0,461.0 C586.3,458.0 598.1,449.4 602.0,446.0 C605.9,442.6 614.7,432.6 618.0,432.0 C621.3,431.4 627.4,438.9 630.0,441.0 C632.6,443.1 637.3,447.7 640.0,450.0 C642.7,452.3 650.8,458.4 653.0,461.0 C655.2,463.6 658.1,469.4 659.0,472.0 C659.9,474.6 661.0,480.7 661.0,483.0 C661.0,485.3 660.2,489.6 659.0,492.0 C657.8,494.4 653.5,501.0 651.0,504.0 C648.5,507.0 641.0,514.5 638.0,518.0 C635.0,521.5 628.0,530.5 625.0,534.0 C622.0,537.5 615.1,544.5 612.0,548.0 C608.9,551.5 601.3,560.3 598.0,564.0 C594.7,567.7 587.3,576.0 584.0,580.0 C580.7,584.0 573.1,594.4 570.0,598.0 C566.9,601.6 559.7,610.4 557.0,611.0 C554.3,611.6 549.2,605.1 547.0,603.0 C544.8,600.9 537.5,596.0 538.0,593.0 C538.5,590.0 548.2,580.6 551.0,577.0 C553.8,573.4 559.3,565.6 562.0,562.0 C564.7,558.4 571.2,549.7 574.0,546.0 C576.8,542.3 583.3,533.6 586.0,530.0 C588.7,526.4 594.8,518.0 597.0,515.0 C599.2,512.0 603.6,506.2 605.0,504.0 C606.4,501.8 609.6,498.3 609.0,496.0 C608.4,493.7 602.1,486.8 600.0,484.0 C597.9,481.2 592.8,474.7 591.0,472.0 C589.2,469.3 583.7,464.0 585.0,461.0Z" fill="url(#gArm)" />
<path d="M586.0,460.0 C588.0,455.7 596.7,450.7 602.0,446.0 C607.3,441.3 613.3,432.8 618.0,432.0 C622.7,431.2 626.3,438.0 630.0,441.0 C633.7,444.0 636.2,446.7 640.0,450.0 C643.8,453.3 649.8,457.3 653.0,461.0 C656.2,464.7 657.7,468.3 659.0,472.0 C660.3,475.7 661.2,479.7 661.0,483.0 C660.8,486.3 660.2,489.5 658.0,492.0 C655.8,494.5 651.3,498.3 648.0,498.0 C644.7,497.7 641.7,490.7 638.0,490.0 C634.3,489.3 630.7,492.8 626.0,494.0 C621.3,495.2 614.3,498.8 610.0,497.0 C605.7,495.2 603.3,487.2 600.0,483.0 C596.7,478.8 592.3,475.8 590.0,472.0 C587.7,468.2 584.0,464.3 586.0,460.0Z" fill="url(#gArmTop)" />
<path d="M622.0,461.0 C624.0,464.0 625.3,463.7 628.0,470.0 C630.7,476.3 630.3,474.0 630.0,480.0 C629.7,486.0 629.7,483.3 627.0,488.0 C624.3,492.7 623.7,492.0 622.0,494.0" fill="none" stroke="#092065" stroke-width="1.2" stroke-linecap="round" stroke-linejoin="round" />
<path d="M602.0,436.0 L614.0,433.0 L628.0,450.0 L616.0,458.0Z" fill="#0a0e24" />
<path d="M607.0,440.0 L613.0,438.0 L622.0,449.0 L616.0,453.0Z" fill="#2a2c34" />
<ellipse cx="652" cy="497" rx="2.6" ry="3.6" transform="rotate(35 652 497)" fill="#071b5c"/>
<ellipse cx="634" cy="516" rx="2.6" ry="3.6" transform="rotate(35 634 516)" fill="#071b5c"/>
<ellipse cx="618" cy="535" rx="2.6" ry="3.6" transform="rotate(35 618 535)" fill="#071b5c"/>
<path d="M508.0,610.0 C508.6,607.4 508.6,606.0 511.0,603.0 C513.4,600.0 515.8,597.6 520.0,595.0 C524.2,592.4 528.0,591.0 532.0,590.0 C536.0,589.0 535.2,585.8 540.0,590.0 C544.8,594.2 553.8,606.0 556.0,611.0 C558.2,616.0 554.2,613.2 551.0,615.0 C547.8,616.8 544.2,617.0 540.0,620.0 C535.8,623.0 533.6,628.8 530.0,630.0 C526.4,631.2 524.8,628.2 522.0,626.0 C519.2,623.8 518.8,621.0 516.0,619.0 C513.2,617.0 509.6,617.8 508.0,616.0 C506.4,614.2 507.4,612.6 508.0,610.0Z" fill="#113ea7" />
<path d="M512.0,606.0 C515.0,603.3 514.0,602.3 521.0,598.0 C528.0,593.7 529.0,594.7 533.0,593.0" fill="none" stroke="#3f6fe0" stroke-width="1.5" stroke-linecap="round" stroke-linejoin="round" />
<path d="M519.0,600.0 C521.7,604.0 522.0,604.7 527.0,612.0 C532.0,619.3 531.7,618.7 534.0,622.0" fill="none" stroke="#092578" stroke-width="1.0" stroke-linecap="round" stroke-linejoin="round" />
<path d="M528.0,630.0 C531.0,625.6 532.6,624.7 538.0,621.0 C543.4,617.3 545.9,616.1 551.0,614.0 C556.1,611.9 554.6,611.5 560.0,612.0 C565.4,612.5 566.5,612.3 574.0,616.0 C581.5,619.7 583.8,621.0 592.0,628.0 C600.2,635.0 602.0,637.6 609.0,646.0 C616.0,654.4 616.9,656.1 622.0,664.0 C627.1,671.9 627.5,673.5 631.0,680.0 C634.5,686.5 638.2,686.6 637.0,692.0 C635.8,697.4 632.3,697.9 626.0,703.0 C619.7,708.1 617.5,708.9 610.0,714.0 C602.5,719.1 600.5,723.6 594.0,725.0 C587.5,726.4 589.0,723.5 582.0,720.0 C575.0,716.5 572.4,716.1 564.0,710.0 C555.6,703.9 553.0,701.9 546.0,694.0 C539.0,686.1 538.7,684.9 534.0,676.0 C529.3,667.1 528.1,664.4 526.0,656.0 C523.9,647.6 524.5,646.1 525.0,640.0 C525.5,633.9 525.0,634.4 528.0,630.0Z" fill="url(#gKnob)" />
<path d="M532.0,634.0 C536.3,627.6 537.5,626.5 545.0,622.0 C552.5,617.5 552.8,617.3 560.0,617.0 C567.2,616.7 572.0,619.1 572.0,621.0 C572.0,622.9 566.9,621.1 560.0,624.0 C553.1,626.9 552.4,626.1 546.0,632.0 C539.6,637.9 540.0,638.5 536.0,646.0 C532.0,653.5 532.9,660.0 531.0,660.0 C529.1,660.0 528.7,652.9 529.0,646.0 C529.3,639.1 527.7,640.4 532.0,634.0Z" fill="#4a4a4e" opacity="0.55"/>
<ellipse cx="615" cy="709" rx="10" ry="6" transform="rotate(-32 615 709)" fill="#050506"/>
<path d="M600.0,722.0 C604.0,720.0 603.3,721.7 612.0,716.0 C620.7,710.3 618.7,711.7 626.0,705.0 C633.3,698.3 631.3,699.0 634.0,696.0" fill="none" stroke="#3a3a3e" stroke-width="2.0" stroke-linecap="round" stroke-linejoin="round" />
<circle cx="563" cy="646" r="2.0" fill="#0a0a0c"/>
<circle cx="562.4" cy="645.4" r="0.9" fill="#8a8a92"/>
<circle cx="584" cy="645" r="2.0" fill="#0a0a0c"/>
<circle cx="583.4" cy="644.4" r="0.9" fill="#8a8a92"/>
<circle cx="559" cy="664" r="2.0" fill="#0a0a0c"/>
<circle cx="558.4" cy="663.4" r="0.9" fill="#8a8a92"/>
<circle cx="567" cy="685" r="2.0" fill="#0a0a0c"/>
<circle cx="566.4" cy="684.4" r="0.9" fill="#8a8a92"/>
<circle cx="585" cy="702" r="2.0" fill="#0a0a0c"/>
<circle cx="584.4" cy="701.4" r="0.9" fill="#8a8a92"/>
<path d="M486.0,518.0 C492.9,515.3 492.5,514.0 500.0,514.0 C507.5,514.0 508.9,514.3 514.0,518.0 C519.1,521.7 519.0,520.0 519.0,528.0 C519.0,536.0 518.0,538.4 514.0,548.0 C510.0,557.6 511.5,557.6 504.0,564.0 C496.5,570.4 495.1,566.7 486.0,572.0 C476.9,577.3 477.5,579.2 470.0,584.0 C462.5,588.8 464.4,591.1 458.0,590.0 C451.6,588.9 451.1,585.9 446.0,580.0 C440.9,574.1 440.1,573.9 439.0,568.0 C437.9,562.1 438.5,562.8 442.0,558.0 C445.5,553.2 446.7,553.7 452.0,550.0 C457.3,546.3 458.3,548.3 462.0,544.0 C465.7,539.7 462.8,539.3 466.0,534.0 C469.2,528.7 468.7,528.3 474.0,524.0 C479.3,519.7 479.1,520.7 486.0,518.0Z" fill="#17171a" />
<path d="M486.0,523.0 C487.9,520.7 491.1,520.4 497.0,518.5 C502.9,516.6 503.5,515.9 508.0,516.0 C512.5,516.1 513.7,517.1 514.0,519.0 C514.3,520.9 513.3,521.8 509.0,523.0 C504.7,524.2 503.1,522.4 498.0,523.5 C492.9,524.6 493.2,527.1 490.0,527.0 C486.8,526.9 484.1,525.3 486.0,523.0Z" fill="#6a6a70" opacity="0.55"/>
<path d="M494.0,530.0 C496.4,526.5 499.5,526.7 503.0,527.0 C506.5,527.3 507.8,528.1 507.0,531.0 C506.2,533.9 503.5,535.6 500.0,538.0 C496.5,540.4 495.6,542.1 494.0,540.0 C492.4,537.9 491.6,533.5 494.0,530.0Z" fill="#5a5a60" opacity="0.6"/>
<path d="M441.0,566.0 C441.5,561.5 442.9,561.3 448.0,557.0 C453.1,552.7 455.2,550.8 460.0,550.0 C464.8,549.2 465.5,551.3 466.0,554.0 C466.5,556.7 465.7,557.1 462.0,560.0 C458.3,562.9 456.3,561.3 452.0,565.0 C447.7,568.7 448.9,573.7 446.0,574.0 C443.1,574.3 440.5,570.5 441.0,566.0Z" fill="#58585c" opacity="0.85"/>
<path d="M461.0,589.0 C464.0,587.0 461.7,589.0 470.0,583.0 C478.3,577.0 476.0,577.7 486.0,571.0 C496.0,564.3 495.3,565.7 500.0,563.0" fill="none" stroke="#3c3c40" stroke-width="2.0" stroke-linecap="round" stroke-linejoin="round" />
<circle cx="503" cy="548" r="7.5" fill="#050506"/><circle cx="503" cy="548" r="6" fill="url(#gScrew)"/><path d="M499,551 L507,545 M500.5,544.5 L505.5,551.5" stroke="#2a2e3a" stroke-width="1.3"/>
<ellipse cx="539" cy="502" rx="8" ry="6.5" transform="rotate(-35 539 502)" fill="#0d2779"/><ellipse cx="538.5" cy="502.5" rx="6" ry="4.8" transform="rotate(-35 538.5 502.5)" fill="url(#gScrew)"/><path d="M535,505 L542,500 M537,500 L540,505" stroke="#3a4050" stroke-width="1.1"/>
<circle cx="548" cy="367" r="7.5" fill="#092065"/><circle cx="548" cy="367" r="5.5" fill="url(#gScrew)"/><path d="M544.5,369 L551.5,365 M546,364 L550,370" stroke="#3a4050" stroke-width="1.2"/>
<circle cx="610" cy="349" r="6" fill="#0e2b7d"/><circle cx="610" cy="349" r="4.5" fill="url(#gScrew)"/><path d="M607,351 L613,347 M608.5,346.5 L611.5,351.5" stroke="#3a4050" stroke-width="1"/>
<path d="M292.0,409.0 C293.6,404.5 295.1,400.3 298.0,392.0 C300.9,383.7 301.1,382.8 303.0,378.0 C304.9,373.2 303.7,375.5 305.0,374.0 C306.3,372.5 306.1,372.8 308.0,372.3 C309.9,371.8 309.9,371.9 312.0,372.0 C314.1,372.1 311.6,370.8 316.0,372.8 C320.4,374.8 322.0,374.8 328.4,379.4 C334.8,384.0 332.9,384.2 340.0,390.0 C347.1,395.8 347.0,394.7 355.0,401.0 C363.0,407.3 360.7,405.1 370.0,413.6 C379.3,422.1 380.4,423.0 390.0,433.0 C399.6,443.0 397.5,440.3 406.0,451.0 C414.5,461.7 414.3,461.5 422.0,473.0 C429.7,484.5 429.0,484.1 435.0,494.0 C441.0,503.9 440.0,501.5 444.5,510.0 C449.0,518.5 448.7,517.5 452.0,526.0 C455.3,534.5 455.1,534.0 457.0,542.0 C458.9,550.0 458.5,552.3 459.0,556.0" fill="none" stroke="#596072" stroke-width="5.0" stroke-linecap="round" stroke-linejoin="round" />
<path d="M292.0,409.0 C293.6,404.5 295.1,400.3 298.0,392.0 C300.9,383.7 301.1,382.8 303.0,378.0 C304.9,373.2 303.7,375.5 305.0,374.0 C306.3,372.5 306.1,372.8 308.0,372.3 C309.9,371.8 309.9,371.9 312.0,372.0 C314.1,372.1 311.6,370.8 316.0,372.8 C320.4,374.8 322.0,374.8 328.4,379.4 C334.8,384.0 332.9,384.2 340.0,390.0 C347.1,395.8 347.0,394.7 355.0,401.0 C363.0,407.3 360.7,405.1 370.0,413.6 C379.3,422.1 380.4,423.0 390.0,433.0 C399.6,443.0 397.5,440.3 406.0,451.0 C414.5,461.7 414.3,461.5 422.0,473.0 C429.7,484.5 429.0,484.1 435.0,494.0 C441.0,503.9 440.0,501.5 444.5,510.0 C449.0,518.5 448.7,517.5 452.0,526.0 C455.3,534.5 455.1,534.0 457.0,542.0 C458.9,550.0 458.5,552.3 459.0,556.0" fill="none" stroke="#eef1f6" stroke-width="2.6" stroke-linecap="round" stroke-linejoin="round" />
<path d="M266.8,439.6 C267.5,433.3 267.9,431.9 272.4,425.6 C276.9,419.3 277.3,419.2 283.6,415.8 C289.9,412.4 289.5,411.1 296.2,413.0 C302.9,414.9 303.6,416.5 308.8,422.8 C314.0,429.1 315.1,429.3 315.8,436.8 C316.5,444.3 314.2,445.2 311.6,450.8 C309.0,456.4 311.2,454.8 306.0,457.8 C300.8,460.8 299.5,462.0 292.0,462.0 C284.5,462.0 284.0,461.2 278.0,457.8 C272.0,454.4 272.6,454.3 269.6,449.4 C266.6,444.5 266.1,445.9 266.8,439.6Z" fill="#101012" />
<path d="M271.0,439.6 C272.3,442.4 271.8,445.6 275.9,450.1 C280.0,454.6 280.2,454.7 286.4,456.4 C292.6,458.1 293.4,457.5 299.0,456.4 C304.6,455.3 305.2,453.3 307.4,452.2" fill="none" stroke="#c9cdd6" stroke-width="3.0" stroke-linecap="round" stroke-linejoin="round" />
<ellipse cx="295" cy="431.5" rx="21" ry="20.5" fill="url(#gRoller)"/>
<ellipse cx="294" cy="429" rx="11" ry="10" fill="#3c3c40" opacity="0.8"/>
<!-- leader lines -->
<g stroke="#b8b8b8" stroke-width="1" fill="none">
<line x1="551" y1="242.5" x2="662" y2="242.5"/>
<line x1="593" y1="307.5" x2="708" y2="307.5"/>
<line x1="360" y1="338.5" x2="472" y2="338.5"/>
<line x1="143" y1="459.5" x2="247" y2="459.5"/>
<line x1="247" y1="553.5" x2="331" y2="553.5"/>
<line x1="620" y1="680.5" x2="735" y2="680.5"/>
<line x1="52" y1="908.5" x2="950" y2="908.5"/>
</g>
<!-- red dots -->
<g fill="#e60012">
<circle cx="550.5" cy="242.5" r="3.5"/>
<circle cx="592.5" cy="307.5" r="3.5"/>
<circle cx="472" cy="338.5" r="3.5"/>
<circle cx="250" cy="459.5" r="3.3"/>
<circle cx="334.3" cy="553.5" r="3.5"/>
<circle cx="619.5" cy="680.5" r="3.5"/>
<circle cx="51" cy="908.5" r="3.8"/>
<circle cx="950" cy="908.5" r="3.8"/>
</g>
<!-- faint artefact under "Fold" -->
<g fill="#8a8a8a"><rect x="747" y="687" width="1.2" height="1.2"/><rect x="766" y="687.5" width="1.2" height="1.2"/><rect x="780" y="687.5" width="1.2" height="1.2"/><rect x="791" y="687.5" width="1.2" height="1.2"/><rect x="802" y="687.5" width="1.2" height="1.2"/></g>
</svg>
<div class="t title">Fishing line capacity</div>
<div class="t sub" style="left:315.5px">0.17mm/130m</div><div class="t sub" style="left:449px">0.20mm/110m</div><div class="t sub" style="left:580px">0.23mm/90m</div>
<div class="t lab" style="left:670.5px;top:229px;">Round feet</div>
<div class="t lab" style="left:712.5px;top:295px;">Non-return switch</div>
<div class="t lab" style="left:203.5px;top:325px;">Crank screw</div>
<div class="t lab" style="left:14.5px;top:446px;">Line block</div>
<div class="t lab" style="left:69.5px;top:540px;">Line cup knob</div>
<div class="t lab" style="left:739.5px;top:666.5px;">Fold the handle</div>
<div class="t dim">20cm</div>
</body>
</html>
